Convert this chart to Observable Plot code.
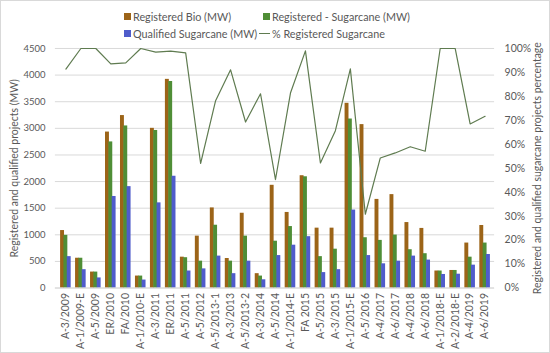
<!DOCTYPE html>
<html><head><meta charset="utf-8">
<script src="https://cdn.jsdelivr.net/npm/d3@7"></script>
<script src="https://cdn.jsdelivr.net/npm/@observablehq/plot@0.6"></script>
<style>
body{margin:0;background:#fff;}
#wrap{position:relative;width:548px;height:351px;border:1px solid #d9d9d9;overflow:hidden;font-family:Lato,"Open Sans",sans-serif;color:#595959;}
#legend{position:absolute;left:0;top:0;width:548px;height:40px;font-size:10.8px;}
.li{position:absolute;display:flex;align-items:center;white-space:nowrap;}
.sw{width:7px;height:7px;margin-right:2px;}
.ln{width:11px;height:0;border-top:1.5px solid;margin-right:2px;}
#chart{position:absolute;left:-1px;top:39px;}
</style></head>
<body><div id="wrap"><div id="legend"></div><div id="chart"></div></div>
<script>
const categories = ["A-3/2009","A-1/2009-E","A-5/2009","ER/2010","FA/2010","A-1/2010-E","A-3/2011","ER/2011","A-5/2011","A-5/2012","A-5/2013-1","A-3/2013","A-5/2013-2","A-3/2014","A-5/2014","A-1/2014-E","FA 2015","A-5/2015","A-3/2015","A-1/2015-E","A-5/2016","A-4/2017","A-6/2017","A-4/2018","A-6/2018","A-1/2018-E","A-2/2018-E","A-4/2019","A-6/2019"];
const registeredBio = [1080,560,300,2930,3240,225,3000,3920,580,975,1505,555,1405,270,1930,1420,2110,1125,1125,3470,3070,1665,1755,1230,1120,320,330,845,1175];
const registeredSugarcane = [990,560,300,2745,3045,225,2960,3880,570,505,1180,505,975,225,880,1155,2090,590,730,3175,945,895,995,720,645,320,330,580,845];
const qualifiedSugarcane = [590,345,190,1720,1905,150,1600,2100,320,360,600,270,505,155,610,805,965,290,345,1465,610,455,505,600,525,255,260,430,630];
const pctRegisteredSugarcane = [91.4,100,100,93.6,94,100,98.5,98.9,98.2,52,78.2,91.1,69.3,81.1,45.3,81.4,99,52.2,65.7,91.5,30.8,54.3,56.4,59,57.1,100,100,68.5,71.7];
const leftTicks = [0,500,1000,1500,2000,2500,3000,3500,4000,4500];
const rightTicks = [0,10,20,30,40,50,60,70,80,90,100];

const colors = {bio:"#9C6418", sug:"#4F8E36", qual:"#4F5CCB", line:"#5F7B50"};

const legendItems = [
  {label:"Registered Bio (MW)", color:colors.bio, type:"sq", left:123, top:9},
  {label:"Registered - Sugarcane (MW)", color:colors.sug, type:"sq", left:262, top:9},
  {label:"Qualified Sugarcane (MW)", color:colors.qual, type:"sq", left:123, top:26},
  {label:"% Registered Sugarcane", color:colors.line, type:"ln", left:258, top:26}
];
const lg = document.getElementById("legend");
for (const it of legendItems) {
  const d = document.createElement("div");
  d.className = "li"; d.style.left = it.left+"px"; d.style.top = it.top+"px";
  const s = document.createElement("span");
  s.className = it.type === "sq" ? "sw" : "ln";
  if (it.type === "sq") s.style.background = it.color; else s.style.borderColor = it.color;
  d.appendChild(s);
  d.appendChild(document.createTextNode(it.label));
  lg.appendChild(d);
}

const data = categories.map((c,i)=>({cat:c, bio:registeredBio[i], sug:registeredSugarcane[i], qual:qualifiedSugarcane[i], pct:pctRegisteredSugarcane[i]*45}));

const W = 550, mL = 55, mR = 55;
const bw = (W - mL - mR) / categories.length;
const bwid = bw * 0.27;
function insets(off){ const l = bw/2 + off*bw - bwid/2; return {insetLeft:l, insetRight:bw - bwid - l}; }

const plot = Plot.plot({
  width: W, height: 314,
  marginLeft: mL, marginRight: mR, marginTop: 8, marginBottom: 66,
  style: {fontFamily: "Lato, 'Open Sans', sans-serif", fontSize: "10.5px", color: "#595959", background: "transparent"},
  x: {type: "band", domain: categories, padding: 0},
  y: {domain: [0, 4500]},
  marks: [
    Plot.gridY(leftTicks, {stroke: "#d9d9d9", strokeOpacity: 1}),
    Plot.barY(data, {x: "cat", y: "bio", fill: colors.bio, ...insets(-0.22)}),
    Plot.barY(data, {x: "cat", y: "sug", fill: colors.sug, ...insets(0)}),
    Plot.barY(data, {x: "cat", y: "qual", fill: colors.qual, ...insets(0.22)}),
    Plot.line(data, {x: "cat", y: "pct", stroke: colors.line, strokeWidth: 1.2}),
    Plot.axisX({tickRotate: -90, tickSize: 0, tickPadding: 5, fontSize: 10.5, label: null}),
    Plot.axisY(leftTicks, {anchor: "left", tickSize: 0, tickPadding: 10, tickFormat: d => String(d), fontSize: 9.5, label: null}),
    Plot.axisY(leftTicks, {anchor: "left", tickSize: 0, text: null, label: "Registered and qualified projects (MW)", labelAnchor: "center", labelOffset: 45, labelArrow: "none", fontSize: 10.5}),
    Plot.axisY(rightTicks.map(d => d*45), {anchor: "right", tickSize: 0, tickPadding: 10, tickFormat: d => Math.round(d/45) + "%", label: "Registered and qualified sugarcane projects percentage", labelAnchor: "center", labelOffset: 46, labelArrow: "none", fontSize: 10.5}),
    Plot.ruleY([0], {stroke: "#d9d9d9"})
  ]
});
document.getElementById("chart").appendChild(plot);
</script></body></html>
